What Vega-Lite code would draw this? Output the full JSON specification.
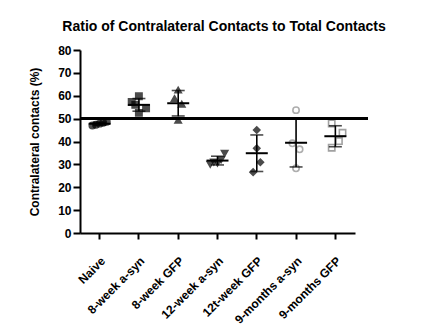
{
  "$schema": "https://vega.github.io/schema/vega-lite/v6.json",
  "autosize": "none",
  "width": 288,
  "height": 183,
  "padding": {"left": 80, "top": 50, "right": 56, "bottom": 93},
  "background": "white",
  "config": {
    "view": {"stroke": null},
    "font": "Liberation Sans",
    "axis": {
      "domainColor": "black", "domainWidth": 2, "tickColor": "black", "tickWidth": 2,
      "labelColor": "black", "labelFont": "Liberation Sans", "labelFontWeight": "bold", "labelFontSize": 12,
      "titleColor": "black", "titleFont": "Liberation Sans", "titleFontWeight": "bold", "titleFontSize": 12,
      "grid": false, "labelOverlap": false
    },
    "axisY": {"tickSize": 7, "labelPadding": 2, "titlePadding": 16}
  },
  "title": {"text": "Ratio of Contralateral Contacts to Total Contacts", "font": "Liberation Sans", "fontSize": 14, "fontWeight": "bold", "color": "black", "anchor": "middle", "frame": "group", "offset": 10},
  "data": {"values": [
    {"group": "Naive", "value": 47.0, "rep": 1},
    {"group": "Naive", "value": 47.3, "rep": 2},
    {"group": "Naive", "value": 47.8, "rep": 3},
    {"group": "Naive", "value": 48.2, "rep": 4},
    {"group": "Naive", "value": 48.6, "rep": 5},
    {"group": "8-week a-syn", "value": 57.3, "rep": 1},
    {"group": "8-week a-syn", "value": 59.8, "rep": 3},
    {"group": "8-week a-syn", "value": 54.5, "rep": 5},
    {"group": "8-week a-syn", "value": 52.5, "rep": 3},
    {"group": "8-week a-syn", "value": 56.0, "rep": 2},
    {"group": "8-week GFP", "value": 62.5, "rep": 3},
    {"group": "8-week GFP", "value": 58.8, "rep": 2},
    {"group": "8-week GFP", "value": 56.3, "rep": 4},
    {"group": "8-week GFP", "value": 49.3, "rep": 3},
    {"group": "12-week a-syn", "value": 34.8, "rep": 5},
    {"group": "12-week a-syn", "value": 32.0, "rep": 4},
    {"group": "12-week a-syn", "value": 31.0, "rep": 2},
    {"group": "12-week a-syn", "value": 30.5, "rep": 3},
    {"group": "12-week a-syn", "value": 30.0, "rep": 1},
    {"group": "12t-week GFP", "value": 45.0, "rep": 3},
    {"group": "12t-week GFP", "value": 37.0, "rep": 3},
    {"group": "12t-week GFP", "value": 30.9, "rep": 4},
    {"group": "12t-week GFP", "value": 26.6, "rep": 2},
    {"group": "9-months a-syn", "value": 53.7, "rep": 3},
    {"group": "9-months a-syn", "value": 39.2, "rep": 2},
    {"group": "9-months a-syn", "value": 36.6, "rep": 4},
    {"group": "9-months a-syn", "value": 28.3, "rep": 3},
    {"group": "9-months GFP", "value": 47.9, "rep": 2},
    {"group": "9-months GFP", "value": 43.8, "rep": 5},
    {"group": "9-months GFP", "value": 40.2, "rep": 4},
    {"group": "9-months GFP", "value": 37.3, "rep": 2}
  ]},
  "encoding": {
    "x": {
      "field": "group", "type": "nominal",
      "sort": ["Naive", "8-week a-syn", "8-week GFP", "12-week a-syn", "12t-week GFP", "9-months a-syn", "9-months GFP"],
      "scale": {"type": "band", "paddingInner": 0, "paddingOuter": 0, "range": [0, 275]},
      "axis": {"title": null, "labelAngle": -45, "labelAlign": "right", "labelBaseline": "top", "labelPadding": 16, "tickSize": 6}
    }
  },
  "resolve": {"axis": {"y": "independent"}},
  "layer": [
    {
      "mark": {"type": "point", "filled": true, "size": 40, "strokeWidth": 1.6},
      "encoding": {
        "xOffset": {"field": "rep", "type": "ordinal", "scale": {"type": "point", "domain": [1, 2, 3, 4, 5], "range": [10.6, 28.6]}},
        "y": {"field": "value", "type": "quantitative", "scale": {"domain": [0, 80], "nice": false},
          "axis": {"title": "Contralateral contacts (%)", "values": [0, 10, 20, 30, 40, 50, 60, 70, 80]}},
        "shape": {"field": "group", "type": "nominal", "legend": null,
          "scale": {"domain": ["Naive", "8-week a-syn", "8-week GFP", "12-week a-syn", "12t-week GFP", "9-months a-syn", "9-months GFP"],
            "range": ["circle", "square", "triangle-up", "triangle-down", "diamond", "circle", "square"]}},
        "fill": {"field": "group", "type": "nominal", "legend": null,
          "scale": {"domain": ["Naive", "8-week a-syn", "8-week GFP", "12-week a-syn", "12t-week GFP", "9-months a-syn", "9-months GFP"],
            "range": ["black", "black", "black", "black", "black", "white", "white"]}},
        "stroke": {"field": "group", "type": "nominal", "legend": null,
          "scale": {"domain": ["Naive", "8-week a-syn", "8-week GFP", "12-week a-syn", "12t-week GFP", "9-months a-syn", "9-months GFP"],
            "range": ["black", "black", "black", "black", "black", "#8c8c8c", "#7a7a7a"]}}
      }
    },
    {
      "mark": {"type": "errorbar", "extent": "stdev", "color": "black", "ticks": {"size": 13, "thickness": 1.6}, "rule": {"strokeWidth": 1.6}},
      "encoding": {
        "y": {"field": "value", "type": "quantitative", "axis": null}
      }
    },
    {
      "mark": {"type": "rule", "color": "black", "strokeWidth": 2},
      "encoding": {"y": {"datum": 50, "type": "quantitative", "axis": null}, "x": null}
    },
    {
      "mark": {"type": "tick", "color": "black", "size": 22, "thickness": 2},
      "encoding": {"y": {"aggregate": "mean", "field": "value", "type": "quantitative", "axis": null}}
    }
  ]
}
